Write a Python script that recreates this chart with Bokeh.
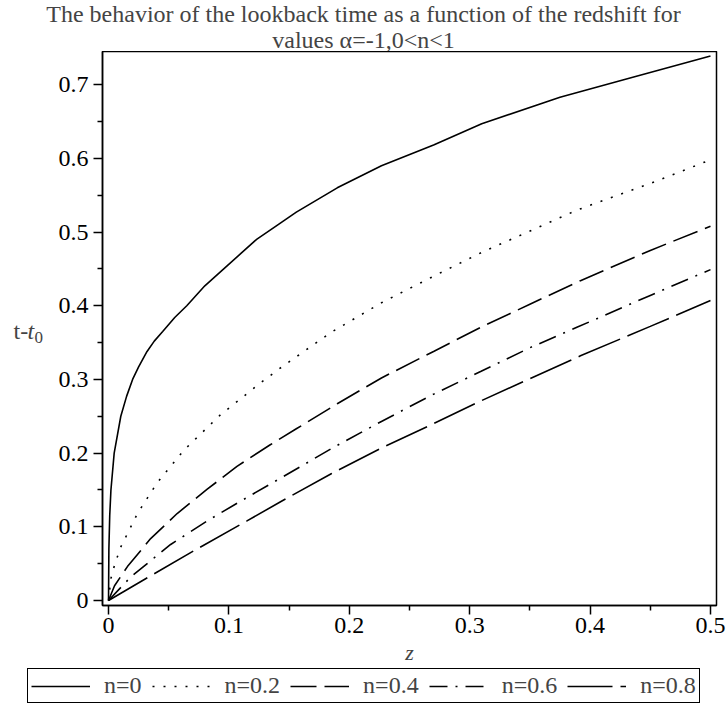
from bokeh.plotting import figure
from bokeh.models import Legend, LegendItem, FixedTicker, Range1d, Label
from bokeh.layouts import column, row
from bokeh.embed import file_html
from bokeh.resources import INLINE

# ---- data ----
z_n0 = [0, 0.0003, 0.001, 0.002, 0.0047, 0.0102, 0.015, 0.02, 0.025, 0.032, 0.038, 0.045, 0.055,
        0.065, 0.08, 0.0957, 0.11, 0.123, 0.14, 0.156, 0.19, 0.2267, 0.27, 0.31, 0.375, 0.44, 0.5]
t_n0 = [0, 0.07, 0.115, 0.15, 0.20, 0.25, 0.277, 0.30, 0.317, 0.338, 0.352, 0.365, 0.384,
        0.40, 0.427, 0.45, 0.471, 0.49, 0.509, 0.527, 0.56, 0.59, 0.618, 0.647, 0.683, 0.712, 0.739]

z_n02 = [0, 0.002, 0.005, 0.010, 0.024, 0.0405, 0.0626, 0.093, 0.126, 0.144, 0.185, 0.2267,
         0.27, 0.3095, 0.3895, 0.45, 0.5]
t_n02 = [0, 0.030, 0.048, 0.072, 0.118, 0.160, 0.204, 0.252, 0.295, 0.317, 0.364, 0.404,
         0.440, 0.472, 0.530, 0.566, 0.598]

z_n04 = [0, 0.005, 0.0157, 0.035, 0.057, 0.082, 0.1067, 0.134, 0.156, 0.19, 0.2267, 0.27,
         0.3095, 0.35, 0.392, 0.45, 0.5]
t_n04 = [0, 0.020, 0.046, 0.084, 0.118, 0.151, 0.182, 0.211, 0.233, 0.267, 0.302, 0.338,
         0.371, 0.402, 0.434, 0.475, 0.508]

z_n06 = [0, 0.0185, 0.0516, 0.082, 0.112, 0.144, 0.185, 0.2267, 0.27, 0.3095, 0.35, 0.3895, 0.45, 0.5]
t_n06 = [0, 0.032, 0.076, 0.108, 0.137, 0.167, 0.206, 0.243, 0.280, 0.311, 0.343, 0.371, 0.414, 0.449]

z_n08 = [0, 0.0323, 0.0736, 0.115, 0.144, 0.185, 0.2267, 0.27, 0.3095, 0.35, 0.392, 0.45, 0.5]
t_n08 = [0, 0.031, 0.070, 0.108, 0.135, 0.172, 0.207, 0.240, 0.271, 0.301, 0.332, 0.372, 0.407]

series_labels = ["n=0", "n=0.2", "n=0.4", "n=0.6", "n=0.8"]

x_ticks = [0, 0.1, 0.2, 0.3, 0.4, 0.5]
x_minor = [0.05, 0.15, 0.25, 0.35, 0.45]
y_ticks = [0, 0.1, 0.2, 0.3, 0.4, 0.5, 0.6, 0.7]
y_minor = [0.05, 0.15, 0.25, 0.35, 0.45, 0.55, 0.65]

title_line1 = "The behavior of the lookback time as a function of the redshift for"
title_line2 = "values \u03b1=-1,0<n<1"
x_label = "z"

FONT = "Liberation Serif"
dashes = [None, "2 9", "26 8", "18 8 2 8", "45 8"]
LW = 1.6

zs = [z_n0, z_n02, z_n04, z_n06, z_n08]
ts = [t_n0, t_n02, t_n04, t_n06, t_n08]


def line_kw(d):
    kw = dict(line_color="black", line_width=LW)
    if d:
        kw["line_dash"] = d
    return kw


def blank_fig(w, h, x_range=None, y_range=None):
    f = figure(width=w, height=h, output_backend="svg", toolbar_location=None,
               x_axis_type=None, y_axis_type=None, title=None,
               x_range=x_range if x_range is not None else Range1d(0, w),
               y_range=y_range if y_range is not None else Range1d(0, h),
               min_border_left=0, min_border_right=0, min_border_top=0, min_border_bottom=0)
    f.outline_line_color = None
    f.background_fill_color = "white"
    f.border_fill_color = "white"
    return f


# ---- main plot ----
PH = 617
p = figure(width=671, height=PH, output_backend="svg", toolbar_location=None, title=None,
           x_range=Range1d(-0.005, 0.505), y_range=Range1d(-0.0068, 0.745),
           min_border_left=45, min_border_right=10, min_border_top=0, min_border_bottom=63)

p.grid.visible = False
p.outline_line_color = "black"
p.outline_line_width = 1.5
p.outline_line_alpha = 1.0
p.background_fill_color = "white"
p.border_fill_color = "white"

for ax in (p.xaxis[0], p.yaxis[0]):
    ax.axis_line_width = 1.5
    ax.major_tick_line_width = 1.5
    ax.minor_tick_line_width = 1.5
    ax.major_tick_out = 9
    ax.major_tick_in = 0
    ax.minor_tick_out = 5
    ax.minor_tick_in = 0
    ax.major_label_text_font = FONT
    ax.major_label_text_font_size = "24px"
    ax.major_label_text_color = "black"
    ax.major_label_standoff = 5
    ax.axis_line_color = "black"
    ax.major_tick_line_color = "black"
    ax.minor_tick_line_color = "black"

p.xaxis[0].ticker = FixedTicker(ticks=x_ticks, minor_ticks=x_minor)
p.yaxis[0].ticker = FixedTicker(ticks=y_ticks, minor_ticks=y_minor)
p.xaxis[0].major_label_overrides = {0: "0"}
p.yaxis[0].major_label_overrides = {0: "0"}
p.xaxis[0].major_label_standoff = 3

p.xaxis[0].axis_label = x_label
p.xaxis[0].axis_label_text_font = FONT
p.xaxis[0].axis_label_text_font_style = "italic"
p.xaxis[0].axis_label_text_font_size = "22px"
p.xaxis[0].axis_label_standoff = 4

for zz, tt, d in zip(zs, ts, dashes):
    p.line(zz, tt, **line_kw(d))

# ---- title strip ----
tfig = blank_fig(726, 51)
tfig.add_layout(Label(x=363, y=38, text=title_line1, text_font=FONT, text_font_size="24px",
                      text_align="center", text_baseline="middle"))
tfig.add_layout(Label(x=363, y=12, text=title_line2, text_font=FONT, text_font_size="24px",
                      text_align="center", text_baseline="middle"))

# ---- y label strip (t-t0, horizontal), shares the plot's y scale ----
yfig = blank_fig(55, PH, y_range=p.y_range)
ly = 0.366
yfig.add_layout(Label(x=13, y=ly, text="t-", text_font=FONT, text_font_size="24px",
                      text_align="left", text_baseline="middle"))
yfig.add_layout(Label(x=27, y=ly, text="t", text_font=FONT, text_font_size="24px",
                      text_font_style="italic", text_align="left", text_baseline="middle"))
yfig.add_layout(Label(x=34, y=ly, y_offset=-7, text="0", text_font=FONT, text_font_size="17px",
                      text_align="left", text_baseline="middle"))

# ---- legend strip (its lines lie outside its ranges, only the legend shows) ----
lfig = blank_fig(726, 38, x_range=Range1d(10, 11), y_range=Range1d(10, 11))
lrs = [lfig.line(zz, tt, **line_kw(d)) for zz, tt, d in zip(zs, ts, dashes)]
items = [LegendItem(label=lab, renderers=[r]) for lab, r in zip(series_labels, lrs)]
legend = Legend(items=items, orientation="horizontal", location=(27, 3),
                glyph_width=59, glyph_height=20, label_standoff=14, spacing=10,
                padding=3, margin=0,
                label_text_font=FONT, label_text_font_size="24px",
                border_line_color="black", border_line_width=1.5, border_line_alpha=1.0,
                background_fill_color="white", background_fill_alpha=1.0)
lfig.add_layout(legend, "center")

layout = column(tfig, row(yfig, p), lfig)

open("out.html", "w").write(file_html(layout, INLINE))
